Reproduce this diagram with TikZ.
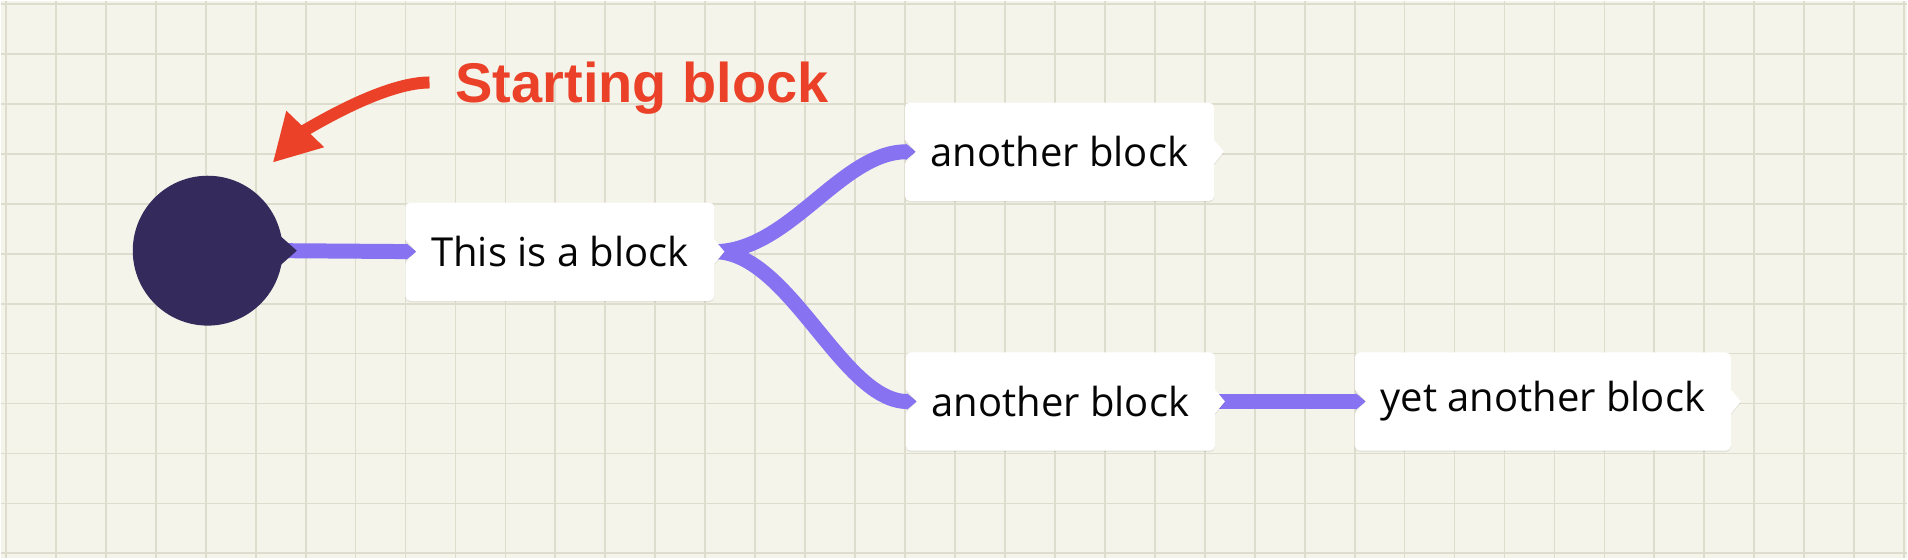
\documentclass[tikz,border=0pt]{standalone}
\usepackage{fontspec}
\newfontfamily\blockfont{Open Sans}
\newfontfamily\notefont{Liberation Sans}
\usetikzlibrary{arrows.meta,positioning,calc,shadows}
\definecolor{paper}{RGB}{244,244,234}
\definecolor{gridline}{RGB}{222,221,205}
\definecolor{ink}{RGB}{5,5,5}
\definecolor{startfill}{RGB}{53,42,92}
\definecolor{linkpurple}{RGB}{135,114,242}
\definecolor{notered}{RGB}{234,65,40}
\pgfdeclarelayer{paperlayer}
\pgfdeclarelayer{links}
\pgfdeclarelayer{boxes}
\pgfsetlayers{paperlayer,links,boxes,main}

\begin{document}
\begin{tikzpicture}[
  x=1pt, y=-1pt,
  >={Triangle[length=10pt,width=16pt]},
  block/.style={rectangle, minimum height=98pt, inner sep=0pt, text=ink,
    font=\blockfont\fontsize{40}{48}\selectfont},
  startnode/.style={circle, fill=startfill, minimum size=150pt, inner sep=0pt},
  boxfill/.style={fill=white,
    drop shadow={shadow xshift=0pt, shadow yshift=-1.5pt, fill=black, opacity=0.07}},
  link/.style={->, draw=linkpurple, line width=15pt},
  note/.style={inner sep=0pt, text=notered, font=\notefont\bfseries\fontsize{56}{64}\selectfont},
  pointer/.style={-{Triangle[length=47pt,width=49pt]}, draw=notered, line width=12pt},
]
% ---------------------------------------------------------------- paper
\begin{pgfonlayer}{paperlayer}
  \fill[paper] (0,0) rectangle (1908,558);
  \foreach \gx in {5,55,...,1905} \draw[gridline, line width=1.8pt] (\gx,0) -- (\gx,558);
  \foreach \gy in {3,53,...,553} \draw[gridline, line width=1.8pt] (0,\gy) -- (1908,\gy);
\end{pgfonlayer}
\useasboundingbox (0,0) rectangle (1908,558);

% ---------------------------------------------------------------- nodes
\node[startnode] (start) at (207,250) {};
\fill[startfill] ([shift={(-4pt,16pt)}]start.east) -- ([xshift=14pt]start.east)
  -- ([shift={(-4pt,-16pt)}]start.east) -- cycle;

\node[block, minimum width=309pt] (b1) at (559.5,251) {This is a block};
\node[block, minimum width=309pt] (b2) at (1059.5,151) {another block};
\node[block, minimum width=309pt] (b3) at (1060.5,401) {another block};
\node[block, minimum width=376pt, right=140pt of b3] (b4) {yet another block};

% block outlines: notch on the left, point on the right
\begin{pgfonlayer}{boxes}
  \foreach \b in {b1,b2,b3,b4}
    \path[boxfill]
      ([xshift=11pt]\b.west) -- ([yshift=12pt]\b.west) -- ([yshift=20pt]\b.west)
      [rounded corners=5pt] -- (\b.north west) -- (\b.north east) -- ([yshift=20pt]\b.east)
      [sharp corners] -- ([yshift=12pt]\b.east) -- ([xshift=10pt]\b.east)
      -- ([yshift=-12pt]\b.east) -- ([yshift=-20pt]\b.east)
      [rounded corners=5pt] -- (\b.south east) -- (\b.south west) -- ([yshift=-20pt]\b.west)
      [sharp corners] -- ([yshift=-12pt]\b.west) -- cycle;
\end{pgfonlayer}

% ---------------------------------------------------------------- edges
\begin{pgfonlayer}{links}
  \draw[link] (start.east) -- ([xshift=11pt]b1.west);
  \draw[link] (b1.east) .. controls +(75,0) and +(-75,0) .. ([xshift=11pt]b2.west);
  \draw[link] (b1.east) .. controls +(75,0) and +(-75,0) .. ([xshift=11pt]b3.west);
  \draw[link] (b3.east) -- ([xshift=11pt]b4.west);
\end{pgfonlayer}

% ---------------------------------------------------------------- note
\node[note, anchor=base west] (tag) at (455,102) {Starting block};
\coordinate (aim) at (272,162);
\draw[pointer] ([shift={(-26pt,6pt)}]tag.west) .. controls +(-50,0) and +(28,-29) .. (aim);
\end{tikzpicture}
\end{document}
